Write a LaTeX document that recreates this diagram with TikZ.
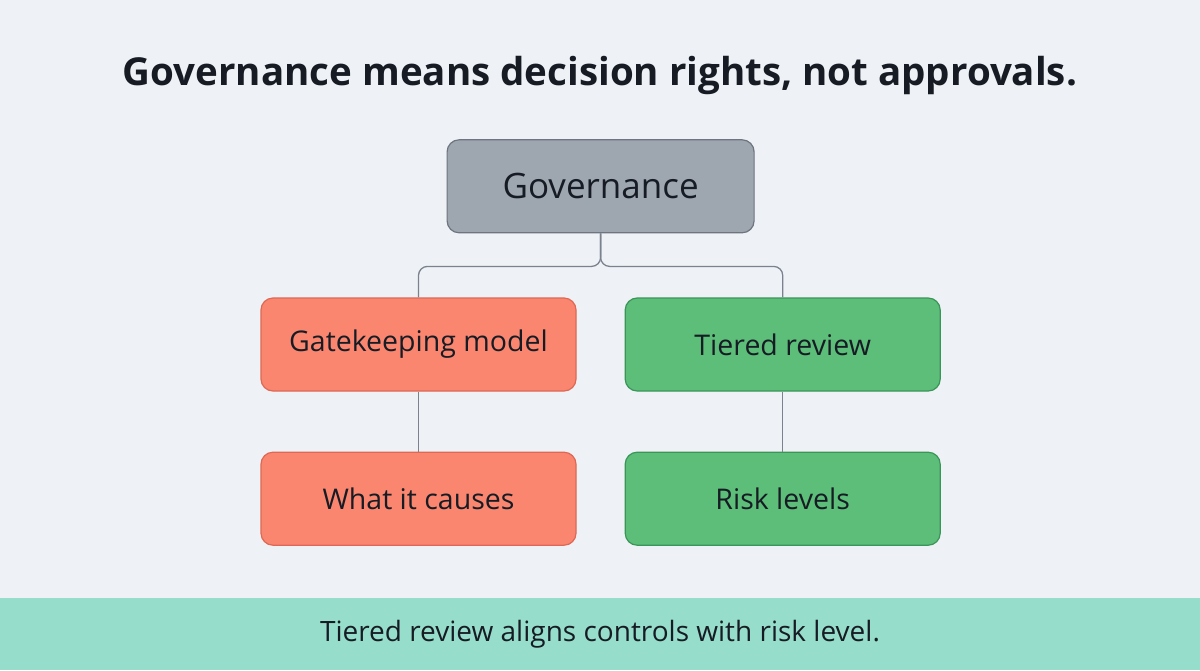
\documentclass[tikz,border=0pt]{standalone}
\usepackage{fontspec}
\setmainfont{Open Sans}
\usepackage{tikz}
\usetikzlibrary{positioning, calc}
\definecolor{PageBg}{RGB}{238, 241, 245}
\definecolor{Ink}{RGB}{23, 28, 36}
\definecolor{Steel}{RGB}{158, 166, 176}
\definecolor{SteelLine}{RGB}{110, 117, 128}
\definecolor{Salmon}{RGB}{250, 134, 112}
\definecolor{SalmonLine}{RGB}{222, 104, 84}
\definecolor{Leaf}{RGB}{92, 190, 120}
\definecolor{LeafLine}{RGB}{58, 150, 88}
\definecolor{Mint}{RGB}{150, 222, 203}
\definecolor{LinkGray}{RGB}{122, 130, 142}

\begin{document}
\begin{tikzpicture}[
    x=1pt, y=-1pt,
    font=\fontsize{28.5}{34}\selectfont,
    text=Ink,
    node distance=60pt and 48pt,
    treebox/.style={rectangle, rounded corners=12pt, draw=#1Line, fill=#1, line width=1.2pt, align=center, minimum width=315pt, minimum height=93pt, inner sep=0pt},
    link/.style={draw=LinkGray, line width=1.3pt, rounded corners=9pt}
]
    % Background and band
    \fill[PageBg] (0,0) rectangle (1200,670);
    \fill[Mint] (0,598) rectangle (1200,670);
    \useasboundingbox (0,0) rectangle (1200,670);

    % Title
    \node[font=\fontsize{38.5}{44}\selectfont\bfseries] (title) at (600,75) {Governance means decision rights, not approvals.};

    % Tree
    \node[treebox=Salmon] (gate) at (418.5,344.5) {Gatekeeping model};
    \node[treebox=Salmon, below=of gate] (causes) {What it causes};
    \node[treebox=Leaf, right=of gate] (tiered) {Tiered review};
    \node[treebox=Leaf, below=of tiered] (risk) {Risk levels};
    \node[treebox=Steel, minimum width=307pt, font=\fontsize{35}{40}\selectfont, above=64pt of $(gate.north)!0.5!(tiered.north)$] (gov) {Governance};

    % Connectors
    \coordinate (split) at ($(gov.south)+(0,33)$);
    \draw[link] (gov.south) -- (split) -| (gate.north);
    \draw[link] (gov.south) -- (split) -| (tiered.north);
    \draw[link] (gate) -- (causes);
    \draw[link] (tiered) -- (risk);

    % Takeaway
    \node[font=\fontsize{28}{33}\selectfont] (note) at (600,634) {Tiered review aligns controls with risk level.};
\end{tikzpicture}
\end{document}
